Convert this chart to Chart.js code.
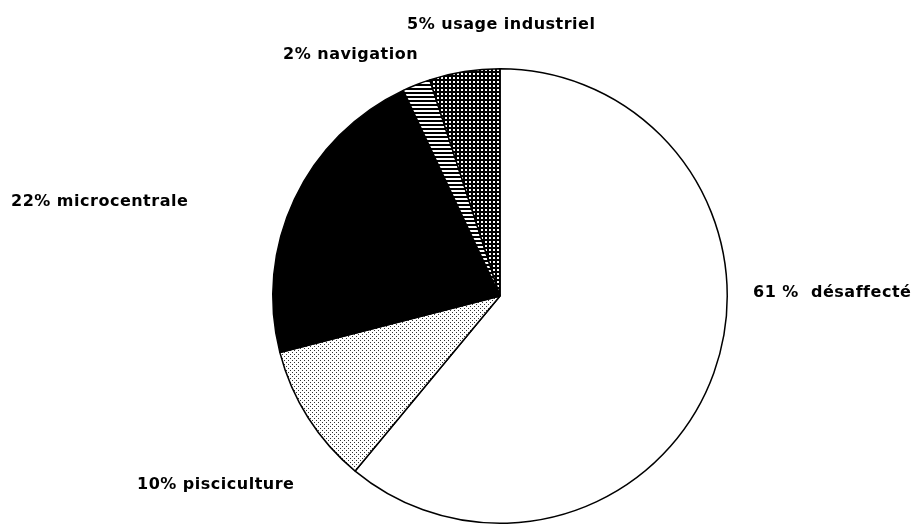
<!DOCTYPE html>
<html>
<head>
<meta charset="utf-8">
<script src="https://cdn.jsdelivr.net/npm/chart.js@4.4.1/dist/chart.umd.min.js"></script>
<style>
  html, body { margin: 0; padding: 0; background: #fff; }
  #wrap { width: 915px; height: 525px; }
</style>
</head>
<body>
<div id="wrap"><canvas id="pie" width="915" height="525"></canvas></div>
<script>
// slice data, clockwise from 12 o'clock
const categories = ['désaffecté', 'pisciculture', 'microcentrale', 'navigation', 'usage industriel'];
const shares = [61, 10, 22, 2, 5];
const sliceLabels = ['61 %  désaffecté', '10% pisciculture', '22% microcentrale', '2% navigation', '5% usage industriel'];

// where each label sits (left edge, vertical middle)
const labelPos = [[753, 293], [137, 485], [11, 202], [283, 55], [407, 25]];

const makePattern = (size, draw) => {
    const c = document.createElement('canvas');
    c.width = size; c.height = size;
    const g = c.getContext('2d');
    g.fillStyle = '#fff';
    g.fillRect(0, 0, size, size);
    draw(g);
    return c.getContext('2d').createPattern(c, 'repeat');
};

const stipple = makePattern(4, g => {
    g.fillStyle = '#333';
    g.fillRect(0, 0, 1, 1);
    g.fillRect(2, 2, 1, 1);
});
const hLines = makePattern(4, g => {
    g.fillStyle = '#000';
    g.fillRect(0, 0, 4, 2);
});
const grid = makePattern(4, g => {
    g.fillStyle = '#000';
    g.fillRect(0, 0, 4, 4);
    g.fillStyle = '#fff';
    g.fillRect(1, 1, 2, 2);
});

const fills = ['#fff', stipple, '#000', hLines, grid];

const labelPlugin = {
    id: 'sliceLabels',
    afterDraw(chart) {
        const ctx = chart.ctx;
        ctx.save();
        ctx.fillStyle = '#000';
        ctx.font = 'bold 16px "DejaVu Sans", sans-serif';
        ctx.letterSpacing = '0.5px';
        ctx.textBaseline = 'middle';
        ctx.textAlign = 'left';
        sliceLabels.forEach((t, i) => {
            ctx.fillText(t, labelPos[i][0], labelPos[i][1]);
        });
        ctx.restore();
    }
};

const ctx = document.getElementById('pie').getContext('2d');
new Chart(ctx, {
    type: 'pie',
    data: {
        labels: categories,
        datasets: [{
            data: shares,
            backgroundColor: fills,
            borderColor: '#000',
            borderWidth: 1.5,
        }]
    },
    options: {
        responsive: false,
        animation: false,
        layout: { padding: { left: 272, right: 187, top: 67, bottom: 0 } },
        plugins: {
            legend: { display: false },
            tooltip: { enabled: false }
        }
    },
    plugins: [labelPlugin]
});
</script>
</body>
</html>
